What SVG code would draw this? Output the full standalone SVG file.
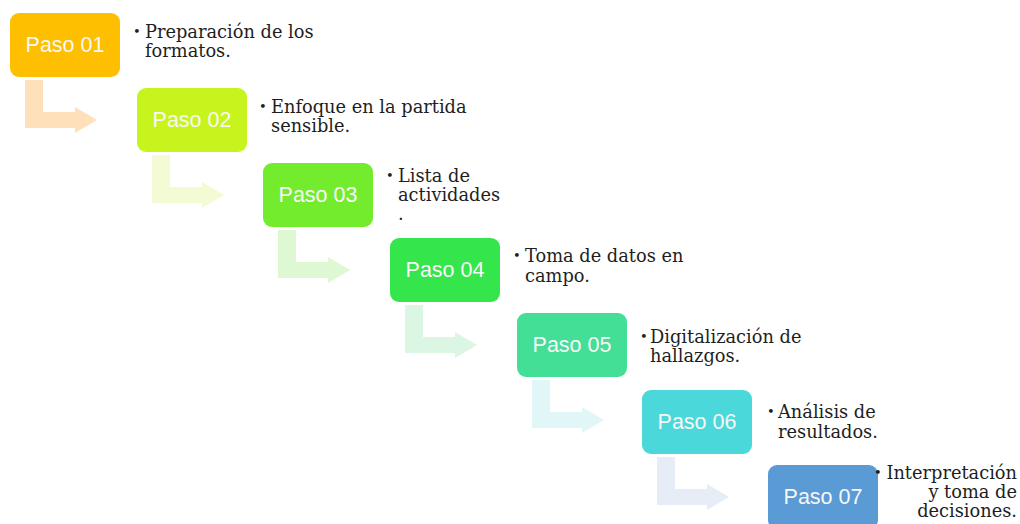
<svg xmlns="http://www.w3.org/2000/svg" width="1020" height="524" viewBox="0 0 1020 524">
<style>
.box{stroke:none}
.lbl{font-family:"Liberation Sans","Open Sans",sans-serif;font-size:21.5px;fill:#F7F7F7;text-anchor:middle}
.desc{font-family:"DejaVu Serif","Liberation Serif",serif;font-size:17.8px;fill:#1E1E1E}
.bul{font-family:"DejaVu Serif","Liberation Serif",serif;font-size:13px;fill:#1E1E1E}
</style>
<rect width="1020" height="524" fill="#FFFFFF"/>
<g id="connectors">
<path d="M25,80 L43,80 L43,112 L75,112 L75,107 L97,120 L75,133 L75,128 L25,128 Z" fill="#FEE0BA"/>
<path d="M152,155 L170,155 L170,187 L202,187 L202,182 L224,195 L202,208 L202,203 L152,203 Z" fill="#F2FBD3"/>
<path d="M278,230 L296,230 L296,262 L328,262 L328,257 L350,270 L328,283 L328,278 L278,278 Z" fill="#DDF8D3"/>
<path d="M405,305 L423,305 L423,337 L455,337 L455,332 L477,345 L455,358 L455,353 L405,353 Z" fill="#DBF7E3"/>
<path d="M532,380 L550,380 L550,412 L582,412 L582,407 L604,420 L582,433 L582,428 L532,428 Z" fill="#E1F6F6"/>
<path d="M657,457 L675,457 L675,489 L707,489 L707,484 L729,497 L707,510 L707,505 L657,505 Z" fill="#E7EDF7"/>
</g>
<g id="paso01">
<rect class="box" x="10" y="13" width="110" height="64" rx="9" fill="#FEBF00"/>
<text class="lbl" x="65" y="52">Paso 01</text>
<text class="bul" x="133" y="36">•</text>
<text class="desc" x="145" y="38">Preparación de los</text>
<text class="desc" x="145" y="57">formatos.</text>
</g>
<g id="paso02">
<rect class="box" x="137" y="88" width="110" height="64" rx="9" fill="#C8F41E"/>
<text class="lbl" x="192" y="127">Paso 02</text>
<text class="bul" x="259" y="111">•</text>
<text class="desc" x="271" y="113">Enfoque en la partida</text>
<text class="desc" x="271" y="132">sensible.</text>
</g>
<g id="paso03">
<rect class="box" x="263" y="163" width="110" height="64" rx="9" fill="#74EC2E"/>
<text class="lbl" x="318" y="202">Paso 03</text>
<text class="bul" x="386" y="180">•</text>
<text class="desc" x="398" y="182">Lista de</text>
<text class="desc" x="398" y="201">actividades</text>
<text class="desc" x="398" y="220">.</text>
</g>
<g id="paso04">
<rect class="box" x="390" y="238" width="110" height="64" rx="9" fill="#34E64C"/>
<text class="lbl" x="445" y="277">Paso 04</text>
<text class="bul" x="513" y="260">•</text>
<text class="desc" x="525" y="262">Toma de datos en</text>
<text class="desc" x="525" y="282">campo.</text>
</g>
<g id="paso05">
<rect class="box" x="517" y="313" width="110" height="64" rx="9" fill="#43DF97"/>
<text class="lbl" x="572" y="352">Paso 05</text>
<text class="bul" x="640" y="341">•</text>
<text class="desc" x="650" y="343">Digitalización de</text>
<text class="desc" x="650" y="362">hallazgos.</text>
</g>
<g id="paso06">
<rect class="box" x="642" y="390" width="110" height="64" rx="9" fill="#4BD8DA"/>
<text class="lbl" x="697" y="429">Paso 06</text>
<text class="bul" x="767" y="416">•</text>
<text class="desc" x="778" y="418">Análisis de</text>
<text class="desc" x="778" y="438">resultados.</text>
</g>
<g id="paso07">
<rect class="box" x="768" y="465" width="110" height="64" rx="9" fill="#5A9BD5"/>
<text class="lbl" x="823" y="504">Paso 07</text>
<text class="bul" x="874" y="477">•</text>
<text class="desc" x="1017" y="479" text-anchor="end">Interpretación</text>
<text class="desc" x="1017" y="498" text-anchor="end">y toma de</text>
<text class="desc" x="1017" y="517" text-anchor="end">decisiones.</text>
</g>
</svg>
